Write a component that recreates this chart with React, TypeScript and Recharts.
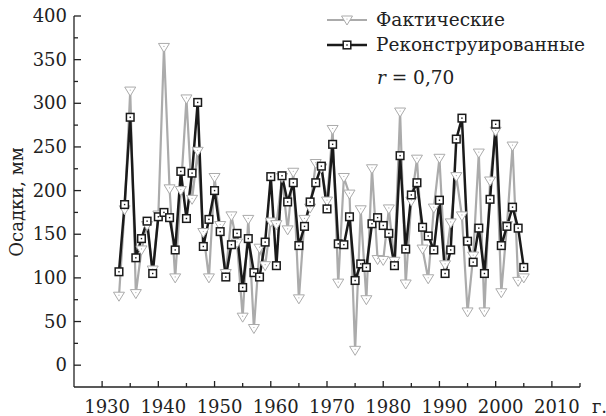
import React from 'react';
import { LineChart, Line, XAxis, YAxis } from 'recharts';

const years: number[] = [
  1933, 1934, 1935, 1936, 1937, 1938, 1939, 1940, 1941, 1942, 1943, 1944, 1945, 1946, 1947, 1948, 1949,
  1950, 1951, 1952, 1953, 1954, 1955, 1956, 1957, 1958, 1959, 1960, 1961, 1962, 1963, 1964, 1965, 1966,
  1967, 1968, 1969, 1970, 1971, 1972, 1973, 1974, 1975, 1976, 1977, 1978, 1979, 1980, 1981, 1982, 1983,
  1984, 1985, 1986, 1987, 1988, 1989, 1990, 1991, 1992, 1993, 1994, 1995, 1996, 1997, 1998, 1999, 2000,
  2001, 2002, 2003, 2004, 2005,
];

const actual: number[] = [
  79, 178, 314, 82, 132, 160, 109, 172, 364, 202, 100, 200, 305, 190, 245, 152, 100,
  215, 160, 105, 171, 140, 55, 167, 42, 134, 114, 164, 161, 215, 155, 221, 76, 167,
  180, 231, 226, 188, 270, 94, 215, 196, 17, 178, 75, 225, 121, 120, 179, 119, 290,
  93, 188, 236, 133, 99, 180, 237, 115, 163, 216, 171, 61, 125, 243, 61, 211, 268,
  83, 160, 251, 96, 100,
];

const reconstructed: number[] = [
  107, 184, 284, 123, 145, 165, 105, 170, 175, 169, 132, 222, 168, 220, 301, 136, 167,
  200, 153, 101, 138, 151, 89, 145, 106, 101, 141, 216, 114, 217, 187, 209, 137, 159,
  187, 209, 228, 179, 253, 139, 138, 170, 97, 116, 112, 162, 169, 160, 151, 114, 240,
  133, 195, 209, 158, 148, 132, 189, 105, 132, 259, 283, 142, 118, 157, 105, 190, 276,
  137, 159, 181, 157, 112,
];

const xTicks: number[] = [1930, 1935, 1940, 1945, 1950, 1955, 1960, 1965, 1970, 1975, 1980, 1985, 1990, 1995, 2000, 2005, 2010, 2015];
const yTicks: number[] = [0, 25, 50, 75, 100, 125, 150, 175, 200, 225, 250, 275, 300, 325, 350, 375, 400];

const seriesNames = ['Фактические', 'Реконструированные'];
const yLabel = 'Осадки, мм';
const yearSuffix = 'г.';
const corrText = '0,70';

const data = years.map((y, i) => ({ year: y, actual: actual[i], rec: reconstructed[i] }));

const FONT = '"DejaVu Serif", serif';
const AXIS = '#222';
const GRAY = '#ababab';
const BLACK = '#1a1a1a';

const XTick = (props: any) => {
  const { x, y, payload } = props;
  const v = payload.value as number;
  const major = v % 10 === 0;
  return (
    <g>
      <line x1={x} x2={x} y1={y} y2={y - (major ? 6 : 4)} stroke={AXIS} strokeWidth={1.3} />
      {major && v <= 2010 && (
        <text x={x + 5} y={y + 26} textAnchor="middle" fontFamily={FONT} fontSize={18} fill="#222">
          {v}
        </text>
      )}
      {v === 2010 && (
        <text x={x + 40} y={y + 26} textAnchor="start" fontFamily={FONT} fontSize={18} fill="#222">
          {yearSuffix}
        </text>
      )}
    </g>
  );
};

const YTick = (props: any) => {
  const { x, y, payload } = props;
  const v = payload.value as number;
  const major = v % 50 === 0;
  return (
    <g>
      <line x1={x} x2={x + (major ? 7 : 4)} y1={y} y2={y} stroke={AXIS} strokeWidth={1.3} />
      {major && (
        <text x={x - 7} y={y + 6} textAnchor="end" fontFamily={FONT} fontSize={18} fill="#222">
          {v}
        </text>
      )}
    </g>
  );
};

const Tri = ({ cx, cy }: { cx: number; cy: number }) => (
  <g>
    <path
      d={`M${cx - 5.5},${cy - 4} L${cx + 5.5},${cy - 4} L${cx},${cy + 5} Z`}
      fill="#fff"
      stroke={GRAY}
      strokeWidth={1}
    />
    <circle cx={cx} cy={cy - 1} r={0.6} fill={GRAY} />
  </g>
);

const Sq = ({ cx, cy }: { cx: number; cy: number }) => (
  <g>
    <rect x={cx - 3.8} y={cy - 3.8} width={7.6} height={7.6} fill="#fff" stroke={BLACK} strokeWidth={1.5} />
    <rect x={cx - 0.7} y={cy - 0.7} width={1.4} height={1.4} fill={BLACK} />
  </g>
);

const triDot = (p: any) => <Tri key={`t${p.index}`} cx={p.cx} cy={p.cy} />;
const sqDot = (p: any) => <Sq key={`s${p.index}`} cx={p.cx} cy={p.cy} />;

export default function App() {
  return (
    <div style={{ position: 'absolute', left: 0, top: 0, width: 606, height: 416, background: '#fff' }}>
      <LineChart width={606} height={416} data={data} margin={{ top: 16, right: 26, bottom: 0, left: 0 }}>
        <XAxis
          dataKey="year"
          type="number"
          domain={[1925, 2015]}
          ticks={xTicks}
          tick={<XTick />}
          tickSize={0}
          tickMargin={0}
          height={29}
          axisLine={{ stroke: AXIS, strokeWidth: 1.3 }}
          interval={0}
        />
        <YAxis
          type="number"
          domain={[-25, 400]}
          ticks={yTicks}
          tick={<YTick />}
          tickSize={0}
          tickMargin={0}
          width={74}
          axisLine={{ stroke: AXIS, strokeWidth: 1.3 }}
          interval={0}
        />
        <Line
          dataKey="actual"
          stroke={GRAY}
          strokeWidth={2.2}
          dot={triDot}
          activeDot={false}
          isAnimationActive={false}
        />
        <Line
          dataKey="rec"
          stroke={BLACK}
          strokeWidth={2.5}
          dot={sqDot}
          activeDot={false}
          isAnimationActive={false}
        />
      </LineChart>
      <svg
        width={606}
        height={416}
        style={{ position: 'absolute', left: 0, top: 0, pointerEvents: 'none' }}
      >
        <text
          x={0}
          y={0}
          transform="translate(23,202) rotate(-90)"
          textAnchor="middle"
          fontFamily={FONT}
          fontSize={18}
          fill="#222"
        >
          {yLabel}
        </text>
        <line x1={327} x2={367} y1={20} y2={20} stroke={GRAY} strokeWidth={2.2} />
        <Tri cx={347} cy={20} />
        <text x={376} y={26} fontFamily={FONT} fontSize={18.5} fill="#222">
          {seriesNames[0]}
        </text>
        <line x1={327} x2={367} y1={45} y2={45} stroke={BLACK} strokeWidth={2.5} />
        <Sq cx={347} cy={45} />
        <text x={376} y={51} fontFamily={FONT} fontSize={18.5} fill="#222">
          {seriesNames[1]}
        </text>
        <text x={377} y={84} fontFamily={FONT} fontSize={18.5} fill="#222">
          <tspan fontStyle="italic">r</tspan>
          <tspan> = {corrText}</tspan>
        </text>
      </svg>
    </div>
  );
}
